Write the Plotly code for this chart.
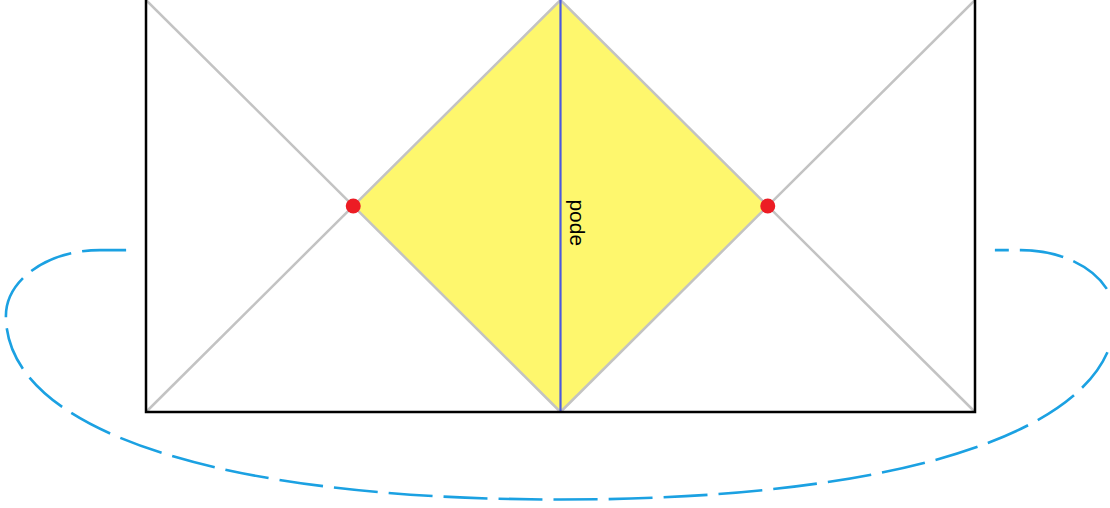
import plotly.graph_objects as go

# ---- data (diagram units: each square half is 2 x 2) ----
rect_x = [-2, -2, 2, 2]          # left side, bottom, right side
rect_y = [2.2, 0, 0, 2.2]
diamond_x = [0, -1, 0, 1, 0]
diamond_y = [2, 1, 0, 1, 2]
diag_segments = [((-2, 2), (0, 0)), ((-2, 0), (0, 2)), ((0, 2), (2, 0)), ((0, 0), (2, 2))]
axis_x = [0, 0]
axis_y = [0, 2]
point_x = [-1, 1]
point_y = [1, 1]
label_text = "pode"
label_pos = (0.08, 0.92)

# dashed loop (bezier control points, left half; mirrored for the right half)
loop_left = [(-2.096, 0.786), (-2.222, 0.786), (-2.473, 0.786), (-2.676, 0.643), (-2.676, 0.466),
             (-2.676, -0.087), (-1.658, -0.425), (0.0, -0.425)]

fig = go.Figure()

fig.add_trace(go.Scatter(x=diamond_x, y=diamond_y, fill="toself", fillcolor="#fef76d",
                         line=dict(width=0), mode="lines", hoverinfo="skip"))

for (a, b) in diag_segments:
    fig.add_trace(go.Scatter(x=[a[0], b[0]], y=[a[1], b[1]], mode="lines",
                             line=dict(color="#c3c3c3", width=2.5), hoverinfo="skip"))

fig.add_trace(go.Scatter(x=axis_x, y=axis_y, mode="lines",
                         line=dict(color="#4c5ade", width=2.2), hoverinfo="skip"))

fig.add_trace(go.Scatter(x=rect_x, y=rect_y, mode="lines",
                         line=dict(color="#000000", width=2.5), hoverinfo="skip"))

fig.add_trace(go.Scatter(x=point_x, y=point_y, mode="markers",
                         marker=dict(color="#ec1c24", size=15), hoverinfo="skip"))

# loop path
L = loop_left
R = [(-x, y) for (x, y) in L][::-1]
def p(pt):
    return f"{pt[0]},{pt[1]}"
path = (f"M {p(L[0])} L {p(L[1])} C {p(L[2])} {p(L[3])} {p(L[4])} "
        f"C {p(L[5])} {p(L[6])} {p(L[7])} "
        f"C {p(R[1])} {p(R[2])} {p(R[3])} C {p(R[4])} {p(R[5])} {p(R[6])} L {p(R[7])}")
fig.add_shape(type="path", path=path, xref="x", yref="y",
              line=dict(color="#1ba1e2", width=2.6, dash="44px,11px"), layer="above")

fig.add_annotation(x=label_pos[0], y=label_pos[1], text=label_text, showarrow=False,
                   textangle=90, font=dict(family="Liberation Sans, Arial", size=21, color="#000000"))

fig.update_layout(
    width=1110, height=508,
    margin=dict(l=0, r=0, t=0, b=0),
    paper_bgcolor="white", plot_bgcolor="white",
    showlegend=False,
    xaxis=dict(range=[-2.7045, 2.6514], visible=False, fixedrange=True),
    yaxis=dict(range=[-0.466, 2.0], visible=False, fixedrange=True),
)

fig.write_html("out.html", config={"displayModeBar": False},
               post_script="document.body.style.margin='0';")
